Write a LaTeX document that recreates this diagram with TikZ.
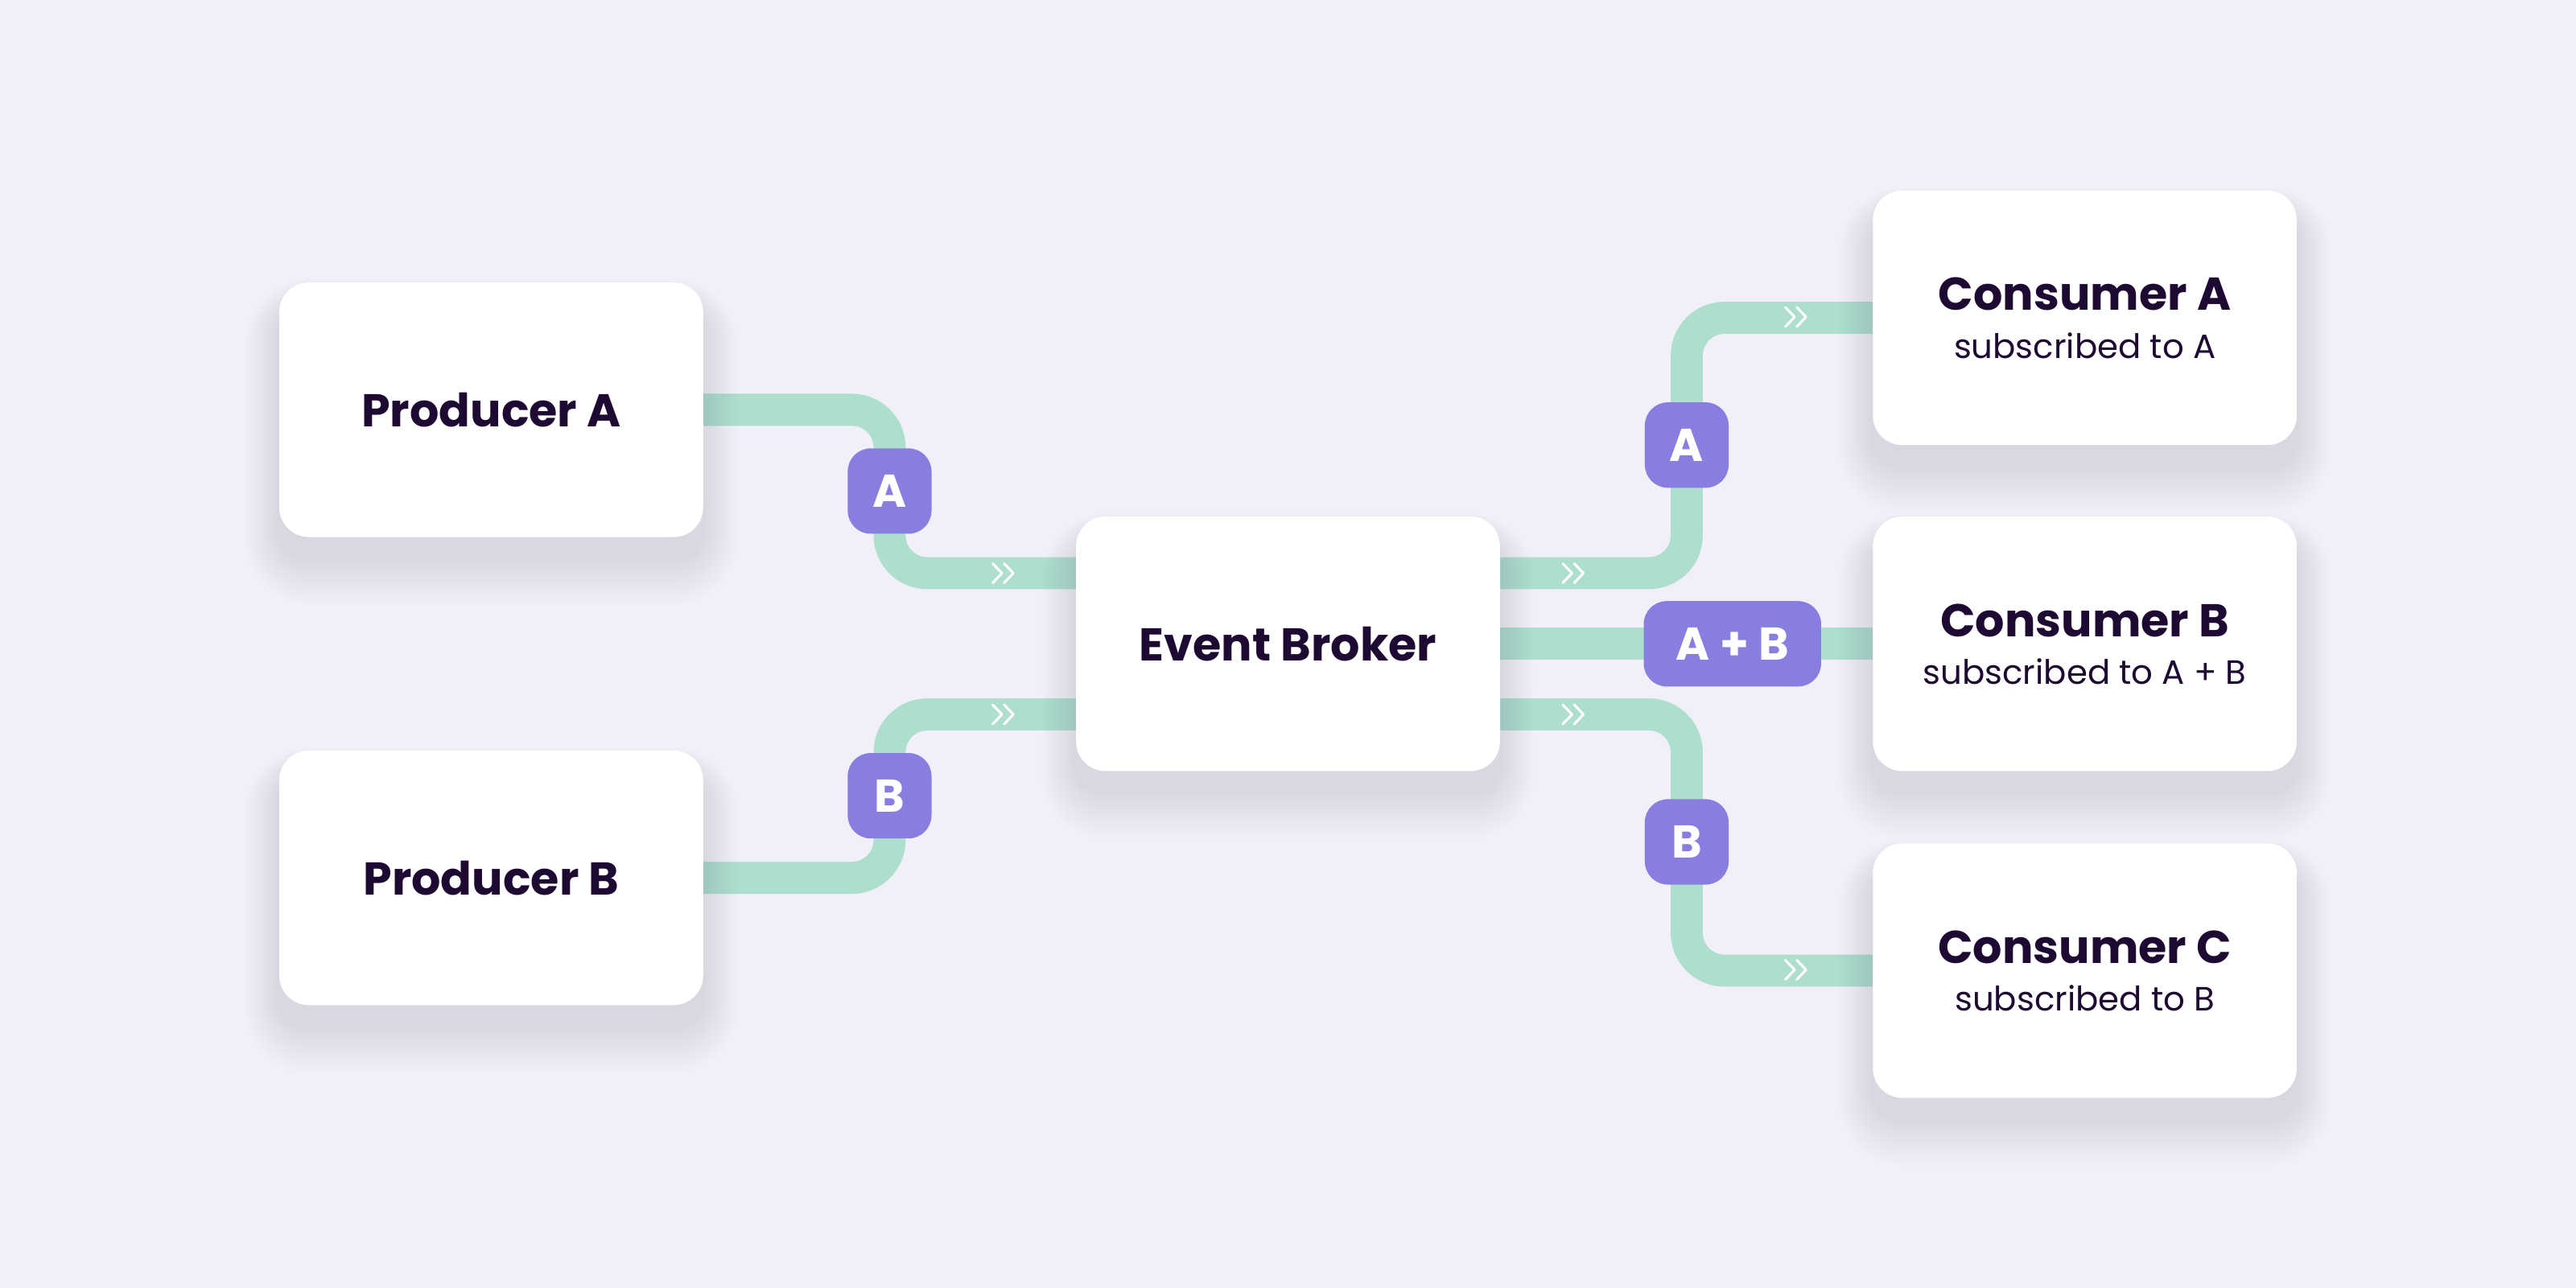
\documentclass[tikz,border=0pt]{standalone}
\usepackage{fontspec}
\setmainfont{Poppins}
\definecolor{bgc}{HTML}{F1F0F9}
\definecolor{grn}{HTML}{ADDFCC}
\definecolor{purp}{HTML}{877EDF}
\definecolor{ink}{HTML}{1E0933}
\definecolor{shd}{HTML}{2A1F55}
\pgfdeclarelayer{bgl}
\pgfdeclarelayer{pipes}
\pgfdeclarelayer{shad}
\pgfsetlayers{bgl,pipes,shad,main}
\begin{document}
\begin{tikzpicture}[x=1pt,y=-1pt,
  box/.style={fill=white, rounded corners=18pt, minimum width=258pt, minimum height=155pt, inner sep=0pt,
    text=ink, font=\bfseries\fontsize{28}{34}\selectfont},
  ttl/.style={text=ink, font=\bfseries\fontsize{28}{34}\selectfont, inner sep=0pt, anchor=base},
  subt/.style={text=ink, font=\fontsize{20.5}{25}\selectfont, inner sep=0pt, anchor=base},
  badge/.style={fill=purp, text=white, rounded corners=14pt, minimum width=51pt, minimum height=52pt, inner sep=0pt,
    font=\bfseries\fontsize{28}{34}\selectfont},
  pipe/.style={draw=grn, line width=19.5pt, rounded corners=23pt},
  shadowring/.style={fill=shd, fill opacity=0.0095},
  chev/.pic={\draw[white, line width=1.5pt, line cap=round, line join=round]
    (-6.3,-5.9) -- (-0.6,0) -- (-6.3,5.9) (0.7,-5.9) -- (6.3,0) -- (0.7,5.9);}
]
\begin{pgfonlayer}{bgl}
\fill[bgc] (0,0) rectangle (1568,784);
\end{pgfonlayer}

% boxes
\node[box] (PA) at (299,249.5) {Producer A};
\node[box] (PB) at (299,534.5) {Producer B};
\node[box] (EB) at (784,392) {Event Broker};
\node[box] (CA) at (1269,193.5) {};
\node[box] (CB) at (1269,392) {};
\node[box] (CC) at (1269,591) {};

% soft shadows under the boxes
\begin{pgfonlayer}{shad}
\foreach \b in {PA,PB,EB,CA,CB,CC}{
  \foreach \i in {1,...,12}{
    \fill[shadowring, rounded corners={18pt+\i*1.8pt}]
      ([xshift={-\i*1.7pt}, yshift={-14pt+\i*1.3pt}]\b.north west)
      rectangle ([xshift={\i*1.7pt}, yshift={-12pt-\i*2.4pt}]\b.south east);
  }
}
\end{pgfonlayer}

\node[ttl] (CAt) at ([yshift=4.5pt]CA.center) {Consumer A};
\node[subt] (CAs) at ([yshift=-24.5pt]CA.center) {subscribed to A};
\node[ttl] (CBt) at ([yshift=4.5pt]CB.center) {Consumer B};
\node[subt] (CBs) at ([yshift=-24.5pt]CB.center) {subscribed to A + B};
\node[ttl] (CCt) at ([yshift=4.5pt]CC.center) {Consumer C};
\node[subt] (CCs) at ([yshift=-24.5pt]CC.center) {subscribed to B};

% badges
\node[badge] (bA) at (541.5,299) {A};
\node[badge] (bB) at (541.5,484.5) {B};
\node[badge] (bA2) at (1026.7,271) {A};
\node[badge, minimum width=108pt] (bAB) at (1054.5,392) {A + B};
\node[badge] (bB2) at (1026.7,512.6) {B};

% pipes
\begin{pgfonlayer}{pipes}
\draw[pipe] (PA.east) -| (bA.center) |- ([yshift=43pt]EB.west);
\draw[pipe] (PB.east) -| (bB.center) |- ([yshift=-43pt]EB.west);
\draw[pipe] ([yshift=43pt]EB.east) -| (bA2.center) |- (CA.west);
\draw[pipe] (EB.east) -- (CB.west);
\draw[pipe] ([yshift=-43pt]EB.east) -| (bB2.center) |- (CC.west);
\pic at (610.5,349) {chev};
\pic at (610.5,435) {chev};
\pic at (957.5,349) {chev};
\pic at (957.5,435) {chev};
\pic at (1093,193) {chev};
\pic at (1093,590.5) {chev};
\end{pgfonlayer}
\end{tikzpicture}
\end{document}
